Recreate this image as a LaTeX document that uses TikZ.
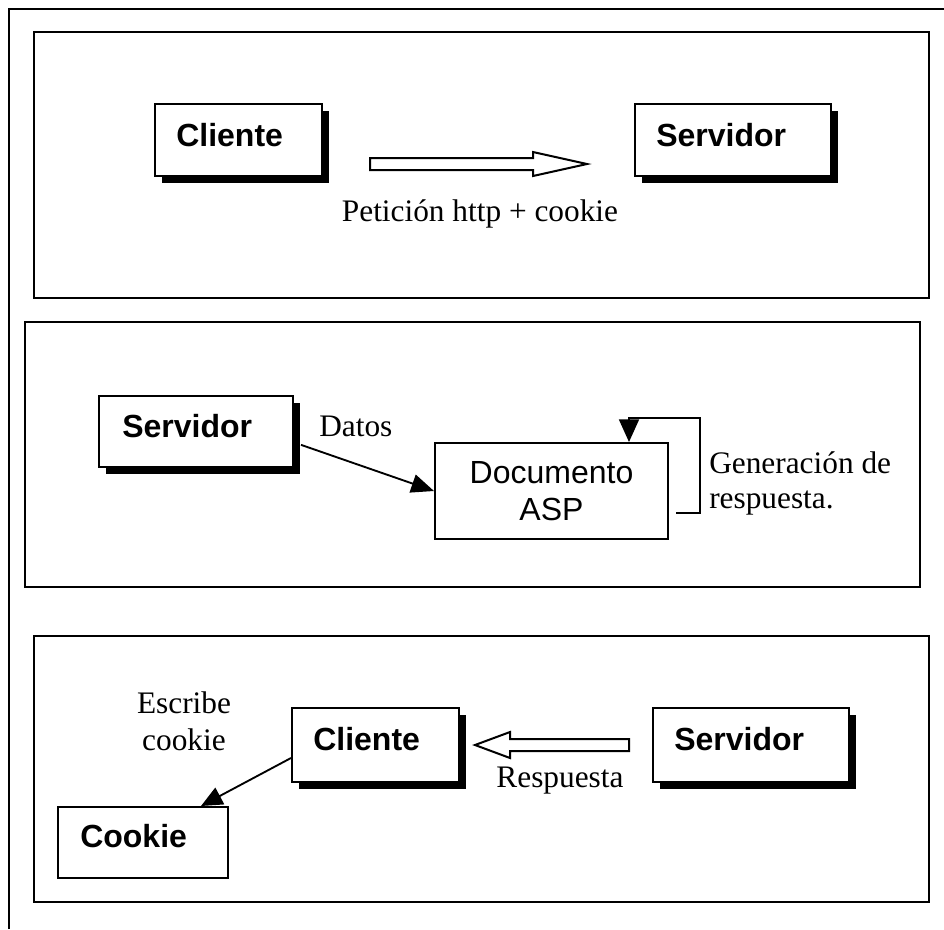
\documentclass[tikz,border=0pt]{standalone}
\usepackage{fontspec}
\setmainfont{Liberation Serif}
\setsansfont{Liberation Sans}
\usetikzlibrary{arrows.meta,shadows,calc}
\newdimen\pxu \pxu=0.75pt
\begin{document}
\begin{tikzpicture}[x=0.75pt,y=-0.75pt,
  panel/.style={draw, line width=1.7pt},
  box/.style={draw, fill=white, line width=1.5pt, inner sep=0pt},
  sbox/.style={box, drop shadow={shadow xshift=5.25pt, shadow yshift=-5.25pt, fill=black, opacity=1}},
  blbl/.style={font=\sffamily\bfseries\fontsize{24}{28}\selectfont, inner sep=0pt, anchor=base west},
  slbl/.style={font=\fontsize{23.5}{27}\selectfont, inner sep=0pt},
  conn/.style={line width=1.4pt, -{Triangle[length=17pt,width=14pt]}},
  hollow/.style={draw, line width=1.5pt, fill=white, line join=miter}]
\useasboundingbox (0,0) rectangle (944,929);
% outer frame (cropped)
\draw[line width=1.5pt] (9,929) -- (9,9) -- (944,9);
% panels
\node[panel, minimum width=895\pxu, minimum height=266\pxu] (p1) at (481.5,165) {};
\node[panel, minimum width=895\pxu, minimum height=265\pxu] (p2) at (472.5,454.5) {};
\node[panel, minimum width=895\pxu, minimum height=266\pxu] (p3) at (481.5,769) {};

% ---- panel 1
\node[sbox, minimum width=167\pxu, minimum height=72\pxu] (cli1) at (238.5,140) {};
\node[blbl] (tcli1) at (176,146) {Cliente};
\node[sbox, minimum width=196\pxu, minimum height=72\pxu] (srv1) at (733,140) {};
\node[blbl] (tsrv1) at (656,146) {Servidor};
\coordinate (a1s) at (370,164);
\coordinate (a1t) at (587,164);
\draw[hollow] ($(a1s)+(0,-6)$) -- ++(163,0) -- ++(0,-6) -- (a1t) -- ($(a1s)+(163,12)$) -- ++(0,-6) -- ($(a1s)+(0,6)$) -- cycle;
\node[slbl, anchor=base] (lpet) at (480,221) {Petición http + cookie};

% ---- panel 2
\node[sbox, minimum width=194\pxu, minimum height=71\pxu] (srv2) at (196,431.5) {};
\node[blbl] (tsrv2) at (122,437) {Servidor};
\node[box, minimum width=233\pxu, minimum height=96\pxu, align=center,
      font=\sffamily\fontsize{24}{27.75}\selectfont] (doc) at (551.5,491) {Documento\\ASP};
\node[slbl, anchor=base west] (ldat) at (319,436) {Datos};
\draw[conn] ([xshift=5.25pt,yshift=-10pt]srv2.east) -- (doc.west);
\coordinate (lp0) at (676,513);
\coordinate (lp1) at (629,418);
\draw[line width=1.4pt, -{Triangle[length=17pt,width=15pt]}]
  (lp0) -- (700,513) -- (700,418) -- (lp1) -- (doc.north -| lp1);
\node[slbl, anchor=base west, align=left] (lgen) at (709,473) {Generación de};
\node[slbl, anchor=base west] (lres) at (709,508) {respuesta.};

% ---- panel 3
\node[sbox, minimum width=167\pxu, minimum height=74\pxu] (cli3) at (375.5,745) {};
\node[blbl] (tcli3) at (313,750) {Cliente};
\node[sbox, minimum width=196\pxu, minimum height=74\pxu] (srv3) at (751,745) {};
\node[blbl] (tsrv3) at (674,750) {Servidor};
\node[box, minimum width=170\pxu, minimum height=71\pxu] (cook) at (143,842.5) {};
\node[blbl] (tcook) at (80,847) {Cookie};
\coordinate (a3s) at (629,745);
\coordinate (a3t) at (475,745);
\draw[hollow] ($(a3s)+(0,-6)$) -- ++(-119,0) -- ++(0,-7) -- (a3t) -- ($(a3s)+(-119,13)$) -- ++(0,-7) -- ($(a3s)+(0,6)$) -- cycle;
\node[slbl, anchor=base] (lresp) at (560,787) {Respuesta};
\node[slbl, anchor=base] (lesc1) at (184,713) {Escribe};
\node[slbl, anchor=base] (lesc2) at (184,750) {cookie};
\draw[line width=1.4pt, -{Triangle[length=16pt,width=14pt]}]
  ([yshift=-9.75pt]cli3.west) -- ([xshift=-21pt]cook.north east);
\end{tikzpicture}
\end{document}
